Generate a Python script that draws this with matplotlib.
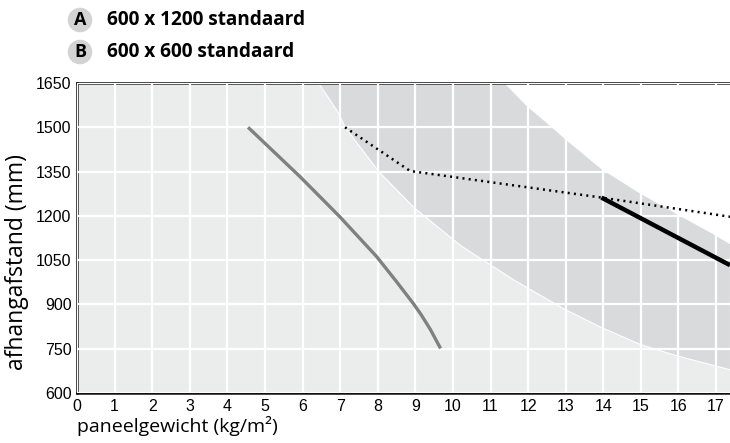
import matplotlib
matplotlib.use("Agg")
import matplotlib.pyplot as plt

# grijze lijn
grey_x = [4.55, 5.93, 6.99, 7.97, 8.5, 8.94, 9.15, 9.4, 9.67]
grey_y = [1500, 1333, 1197, 1062, 977, 904, 866, 815, 751]

# stippellijn
dot_x = [7.13, 8.86, 13.95, 17.37]
dot_y = [1500, 1352, 1262, 1197]

# dikke zwarte lijn
black_x = [13.95, 17.37]
black_y = [1262, 1033]

# grens lichtgrijs / donkergrijs
b1_x = [6.42, 6.9, 7.13, 8.01, 8.94, 10.19, 11.6, 12.93, 13.91, 14.97, 15.9, 17.37]
b1_y = [1650, 1559, 1500, 1352, 1231, 1101, 985, 887, 825, 766, 729, 680]

# grens donkergrijs / wit
b2_x = [11.38, 11.96, 12.58, 12.98, 13.95, 14.93, 15.95, 16.92, 17.37]
b2_y = [1650, 1575, 1508, 1463, 1361, 1282, 1209, 1141, 1107]

xticks = list(range(0, 18))
yticks = [600, 750, 900, 1050, 1200, 1350, 1500, 1650]
legend_letters = ["A", "B"]
legend_labels = ["600 x 1200 standaard", "600 x 600 standaard"]

plt.rcParams["font.family"] = ["Liberation Sans", "DejaVu Sans"]
labelfont = ["Open Sans", "DejaVu Sans"]

fig = plt.figure(figsize=(7.3, 4.43), dpi=100)
ax = fig.add_axes([0.1055, 0.1129, 0.8945, 0.6997])
ax.set_facecolor("#ebecec")
ax.set_xlim(0, 17.37)
ax.set_ylim(600, 1650)

ax.fill_between(b1_x, b1_y, 1650, color="#d9dadc", ec="white", lw=0.8, zorder=1)
ax.fill_between(b2_x, b2_y, 1650, color="white", ec="white", lw=0.8, zorder=1.1)

ax.set_xticks(xticks)
ax.set_yticks(yticks)
ax.grid(True, color="white", lw=1.6)
ax.set_axisbelow(False)
for gl in ax.get_xgridlines() + ax.get_ygridlines():
    gl.set_zorder(1.5)

ax.plot(grey_x, grey_y, color="#808080", lw=2.4, zorder=3, solid_capstyle="butt")
ax.plot(dot_x, dot_y, color="black", lw=1.8, ls=(0, (0.8, 1.7)), zorder=3)
ax.plot(black_x, black_y, color="black", lw=3.2, zorder=4, solid_capstyle="butt")

ax.tick_params(length=0, labelsize=11.5, pad=4)
for s in ["left", "bottom", "top"]:
    ax.spines[s].set_linewidth(1.8)
    ax.spines[s].set_color("#111111")
ax.spines["right"].set_visible(False)

ax.set_xlabel("paneelgewicht (kg/m²)", fontsize=14, family=labelfont, loc="left", labelpad=2)
ax.set_ylabel("afhangafstand (mm)", fontsize=16.5, family=labelfont)
ax.yaxis.set_label_coords(-0.074, 0.4226)

for i, (let, lab) in enumerate(zip(legend_letters, legend_labels)):
    yy = 1 - (20 + 32 * i) / 443
    fig.text(80 / 730, yy, let, ha="center", va="center", fontsize=13, fontweight="bold",
             family=labelfont,
             bbox=dict(boxstyle="circle,pad=0.18", fc="#d3d3d3", ec="none"))
    fig.text(107 / 730, yy, lab, ha="left", va="center", fontsize=13.7, fontweight="bold",
             family=labelfont)

fig.savefig("out.png", dpi=100)
